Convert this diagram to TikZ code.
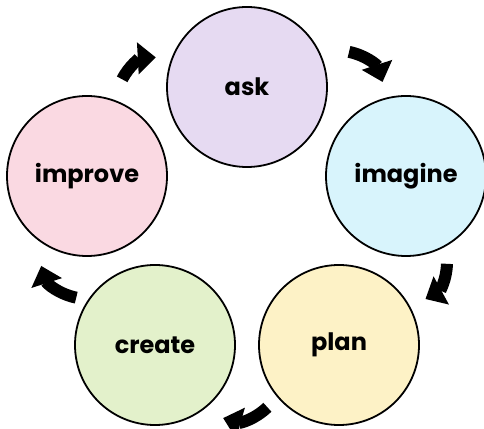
\documentclass[tikz,border=0pt]{standalone}
\usepackage{fontspec}
\setmainfont{Poppins}
\usetikzlibrary{arrows.meta}
\definecolor{askfill}{RGB}{230,218,242}
\definecolor{imaginefill}{RGB}{216,244,252}
\definecolor{planfill}{RGB}{253,242,198}
\definecolor{createfill}{RGB}{227,241,203}
\definecolor{improvefill}{RGB}{250,217,226}
\begin{document}
\begin{tikzpicture}[x=1pt,y=1pt,
        stage/.style={circle,draw=black,line width=1.8pt,minimum size=160pt,
            inner sep=0pt,font=\fontsize{24}{28}\selectfont\bfseries},
        cyc/.style={line width=12pt,-{Triangle[length=18pt,width=31pt]}}]
\useasboundingbox (0,0) rectangle (484,428);

\node[stage,fill=askfill] (ask) at (247,341) {ask};
\node[stage,fill=imaginefill] (imagine) at (406,252) {imagine};
\node[stage,fill=planfill] (plan) at (339,83) {plan};
\node[stage,fill=createfill] (create) at (155,83) {create};
\node[stage,fill=improvefill] (improve) at (87,252) {improve};

\draw[cyc] ([shift={(70:22)}]improve.70) to[bend left=30] ([shift={(162:15)}]ask.162);
\draw[cyc] ([shift={(19:27)}]ask.19) to[bend left=30] ([shift={(104:16)}]imagine.104);
\draw[cyc] ([shift={(-65:16)}]imagine.-65) to[bend left=30] ([shift={(28:17)}]plan.28);
\draw[cyc] ([shift={(221:14)}]plan.221) to[bend left=30] ([shift={(-47:19)}]create.-47);
\draw[cyc] ([shift={(149:11)}]create.149) to[bend left=30] ([shift={(243:20)}]improve.243);

\end{tikzpicture}
\end{document}
